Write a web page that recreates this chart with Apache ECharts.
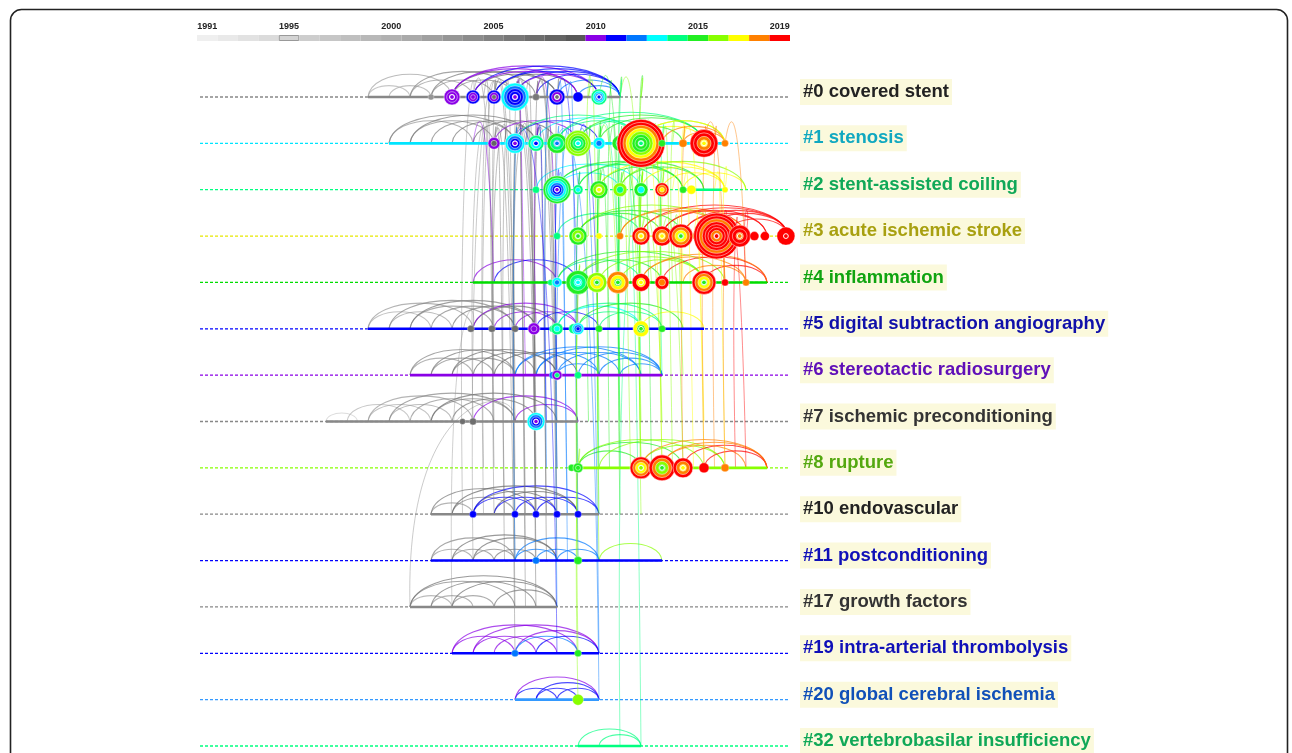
<!DOCTYPE html>
<html>
<head>
<meta charset="utf-8">
<script src="https://cdn.jsdelivr.net/npm/echarts@6/dist/echarts.min.js"></script>
<style>
  html, body { margin: 0; padding: 0; background: #fff; }
  #timeline { width: 1292px; height: 753px; }
</style>
</head>
<body>
<div id="timeline"></div>
<script>
// years of the colour bar (one cell per year)
const years = ['1991', '1992', '1993', '1994', '1995', '1996', '1997', '1998', '1999', '2000',
  '2001', '2002', '2003', '2004', '2005', '2006', '2007', '2008', '2009', '2010',
  '2011', '2012', '2013', '2014', '2015', '2016', '2017', '2018', '2019'];
const tickYears = ['1991', '1995', '2000', '2005', '2010', '2015', '2019'];

// cluster labels, top to bottom
const rowLabels = ['#0 covered stent', '#1 stenosis', '#2 stent-assisted coiling', '#3 acute ischemic stroke',
  '#4 inflammation', '#5 digital subtraction angiography', '#6 stereotactic radiosurgery',
  '#7 ischemic preconditioning', '#8 rupture', '#10 endovascular', '#11 postconditioning',
  '#17 growth factors', '#19 intra-arterial thrombolysis', '#20 global cerebral ischemia',
  '#32 vertebrobasilar insufficiency'];

// solid part of each timeline: [row, fromYear, toYear]
const rowSpans = [
  [0, 1999, 2011], [1, 2000, 2016], [2, 2014, 2016], [4, 2004, 2018], [5, 1999, 2015],
  [6, 2001, 2013], [7, 1997, 2009], [8, 2008.7, 2018], [9, 2002, 2010], [10, 2002, 2013],
  [11, 2001, 2008], [12, 2003, 2010], [13, 2006, 2010], [14, 2009, 2012]
];

// nodes: [year, row, radius, ring years inner -> outer]
const nodes = [
  [2002, 0, 3, [2003]], [2003, 0, 8, [2010, 2010, 2010]], [2004, 0, 7, [2010, 2010, 2011]],
  [2005, 0, 7, [2007, 2010, 2011]], [2006, 0, 14, [2010, 2011, 2011, 2012, 2013]],
  [2007, 0, 3.5, [2006]], [2008, 0, 8, [2007, 2010, 2011]], [2009, 0, 5, [2011]],
  [2010, 0, 8, [2011, 2012, 2013, 2014]],
  [2005, 1, 6, [2008, 2010]], [2006, 1, 10, [2010, 2011, 2012, 2013]], [2007, 1, 8, [2011, 2013, 2014]],
  [2008, 1, 10, [2012, 2014, 2015]], [2009, 1, 13, [2013, 2014, 2015, 2016, 2016]],
  [2010, 1, 6, [2012, 2013]], [2011, 1, 8, [2014, 2015]],
  [2012, 1, 24, [2014, 2015, 2015, 2016, 2017, 2018, 2019, 2019]], [2013, 1, 3.5, [2015]],
  [2014, 1, 4, [2018]], [2015, 1, 14, [2017, 2018, 2019, 2019]], [2016, 1, 3.5, [2018]],
  [2007, 2, 3.5, [2014]], [2008, 2, 14, [2010, 2011, 2012, 2013, 2014, 2015]], [2009, 2, 5, [2013, 2014]],
  [2010, 2, 9, [2017, 2016, 2015]], [2011, 2, 7, [2014, 2016]], [2012, 2, 7, [2013, 2015]],
  [2013, 2, 7, [2017, 2018, 2019]], [2014, 2, 3.5, [2015]], [2014.4, 2, 4.5, [2017]], [2016, 2, 3, [2017]],
  [2008, 3, 3.5, [2014]], [2009, 3, 9, [2015, 2016, 2015]], [2010, 3, 3, [2017]], [2011, 3, 3.5, [2018]],
  [2012, 3, 9, [2017, 2018, 2019]], [2013, 3, 10, [2017, 2018, 2019]],
  [2013.9, 3, 12, [2015, 2017, 2018, 2019]], [2014.6, 3, 3.5, [2018]],
  [2015.6, 3, 23, [2019, 2018, 2019, 2019, 2019, 2018, 2019, 2019]], [2016.7, 3, 11, [2018, 2019, 2019]],
  [2017.4, 3, 4.5, [2019]], [2017.9, 3, 4.5, [2019]], [2018.9, 3, 9, [2019]],
  [2007.7, 4, 3, [2014]], [2008, 4, 5, [2012, 2013]], [2009, 4, 12, [2013, 2014, 2015]],
  [2009.9, 4, 10, [2015, 2017, 2016]], [2010.9, 4, 11, [2015, 2017, 2018]], [2012, 4, 9, [2017, 2019]],
  [2013, 4, 7, [2018, 2019]], [2015, 4, 12, [2015, 2017, 2018, 2019]], [2016, 4, 3.5, [2019]],
  [2017, 4, 3.5, [2018]],
  [2003.9, 5, 3.5, [2007]], [2004.9, 5, 3.5, [2007]], [2006, 5, 3.5, [2007]], [2006.9, 5, 6, [2010, 2010]],
  [2007.8, 5, 3.5, [2014]], [2008, 5, 6, [2013, 2014]], [2008.8, 5, 5, [2014]], [2009, 5, 6, [2011, 2012, 2013]],
  [2010, 5, 3.5, [2015]], [2012, 5, 8, [2015, 2017]], [2013, 5, 3.5, [2015]],
  [2007.8, 6, 3.5, [2012]], [2008, 6, 5, [2014, 2010]], [2009, 6, 3.5, [2014]],
  [2003.5, 7, 3, [2007]], [2004, 7, 3.5, [2007]], [2007, 7, 9, [2010, 2011, 2012, 2013]],
  [2008.7, 8, 3.5, [2015]], [2009, 8, 5, [2015, 2015]], [2012, 8, 11, [2016, 2017, 2018, 2019]],
  [2013, 8, 13, [2015, 2016, 2018, 2019]], [2014, 8, 10, [2017, 2018, 2019]], [2015, 8, 5, [2019]],
  [2016, 8, 4, [2018]],
  [2004, 9, 3.5, [2011]], [2006, 9, 3.5, [2011]], [2007, 9, 3.5, [2011]], [2008, 9, 3.5, [2011]], [2009, 9, 3.5, [2011]],
  [2007, 10, 3.5, [2012]], [2009, 10, 4, [2015]],
  [2006, 12, 3.5, [2012]], [2009, 12, 3.5, [2015]],
  [2009, 13, 5.5, [2016]]
];

// arcs inside one timeline: [row, fromYear, toYear, colourYear]
const arcs = [
  [0, 1999, 2001, 2000], [0, 2000, 2002, 2001], [0, 1999, 2003, 2002], [0, 2001, 2004, 2003],
  [0, 2002, 2005, 2004], [0, 2003, 2006, 2005], [0, 2002, 2007, 2006], [0, 2004, 2008, 2007],
  [0, 2001, 2006, 2005], [0, 2003, 2008, 2007], [0, 2005, 2009, 2008], [0, 2003, 2010, 2010],
  [0, 2004, 2011, 2011], [0, 2005, 2011, 2011], [0, 2006, 2011, 2011], [0, 2003, 2009, 2010],
  [0, 2007, 2011, 2011], [0, 2008, 2011, 2012], [0, 2006, 2010, 2010], [0, 2009, 2011, 2012],
  [0, 2005, 2010, 2011], [0, 2004, 2009, 2010],
  [1, 2000, 2004, 2003], [1, 2001, 2005, 2004], [1, 2000, 2006, 2005], [1, 2002, 2006, 2005],
  [1, 2003, 2007, 2006], [1, 2001, 2007, 2006], [1, 2004, 2008, 2007], [1, 2005, 2009, 2010],
  [1, 2006, 2010, 2011], [1, 2007, 2012, 2013], [1, 2008, 2012, 2014], [1, 2009, 2013, 2014],
  [1, 2006, 2012, 2014], [1, 2009, 2015, 2015], [1, 2010, 2015, 2015], [1, 2012, 2016, 2016],
  [1, 2008, 2015, 2014], [1, 2011, 2014, 2015], [1, 2012, 2015, 2017], [1, 2013, 2016, 2018],
  [1, 2014, 2016, 2018], [1, 2012, 2016, 2017],
  [2, 2008, 2011, 2013], [2, 2008, 2013, 2014], [2, 2009, 2014, 2014], [2, 2007, 2012, 2013],
  [2, 2008, 2014, 2015], [2, 2010, 2014, 2015], [2, 2009, 2015, 2015], [2, 2011, 2015, 2015],
  [2, 2012, 2016, 2017], [2, 2013, 2016, 2017], [2, 2010, 2016, 2017], [2, 2014, 2017, 2017],
  [2, 2011, 2017, 2016],
  [3, 2009, 2013, 2015], [3, 2008, 2012, 2014], [3, 2009, 2014, 2015], [3, 2009, 2016, 2016],
  [3, 2011, 2017, 2018], [3, 2012, 2017, 2018], [3, 2013, 2018, 2019], [3, 2014, 2019, 2019],
  [3, 2012, 2019, 2019], [3, 2015, 2019, 2019], [3, 2013, 2019, 2019], [3, 2016, 2019, 2019],
  [3, 2011, 2016, 2018], [3, 2014, 2018, 2019],
  [4, 2004, 2008, 2010], [4, 2005, 2009, 2011], [4, 2008, 2012, 2014], [4, 2009, 2013, 2015],
  [4, 2008, 2015, 2015], [4, 2010, 2015, 2016], [4, 2009, 2016, 2016], [4, 2011, 2015, 2016],
  [4, 2012, 2017, 2018], [4, 2013, 2018, 2019], [4, 2015, 2018, 2019], [4, 2012, 2018, 2018],
  [4, 2014, 2017, 2018],
  [5, 1999, 2002, 2001], [5, 2000, 2003, 2002], [5, 1999, 2004, 2003], [5, 2001, 2005, 2004],
  [5, 2002, 2006, 2005], [5, 2003, 2007, 2006], [5, 2001, 2007, 2006], [5, 2004, 2008, 2007],
  [5, 2000, 2006, 2005], [5, 2004, 2009, 2010], [5, 2005, 2008, 2010], [5, 2006, 2009, 2010],
  [5, 2007, 2010, 2011], [5, 2008, 2012, 2013], [5, 2009, 2012, 2014], [5, 2008, 2013, 2014],
  [5, 2010, 2013, 2014], [5, 2009, 2014, 2015], [5, 2012, 2015, 2017],
  [6, 2001, 2004, 2003], [6, 2001, 2006, 2005], [6, 2002, 2005, 2004], [6, 2003, 2006, 2005],
  [6, 2002, 2007, 2006], [6, 2004, 2008, 2007], [6, 2003, 2008, 2007], [6, 2005, 2009, 2008],
  [6, 2006, 2010, 2012], [6, 2007, 2011, 2012], [6, 2008, 2012, 2012], [6, 2009, 2013, 2012],
  [6, 2007, 2013, 2012], [6, 2010, 2013, 2012], [6, 2008, 2010, 2012], [6, 2011, 2013, 2012],
  [6, 2006, 2012, 2012],
  [7, 1997, 1998.5, 1996], [7, 1998, 2001, 2000], [7, 1999, 2002, 2001], [7, 2000, 2003, 2002],
  [7, 1999, 2004, 2003], [7, 2001, 2005, 2004], [7, 2002, 2006, 2005], [7, 2003, 2007, 2006],
  [7, 2000, 2006, 2005], [7, 2002, 2008, 2007], [7, 2004, 2009, 2010], [7, 2006, 2009, 2010],
  [8, 2009, 2012, 2015], [8, 2009, 2014, 2015], [8, 2009, 2015, 2016], [8, 2010, 2016, 2016],
  [8, 2012, 2016, 2016], [8, 2013, 2017, 2018], [8, 2012, 2018, 2018], [8, 2014, 2018, 2019],
  [8, 2015, 2018, 2019], [8, 2013, 2018, 2018],
  [9, 2002, 2004, 2003], [9, 2003, 2006, 2005], [9, 2002, 2007, 2006], [9, 2004, 2008, 2007],
  [9, 2005, 2009, 2008], [9, 2003, 2009, 2008], [9, 2004, 2007, 2011], [9, 2005, 2008, 2011],
  [9, 2006, 2009, 2011], [9, 2004, 2010, 2011], [9, 2007, 2010, 2011],
  [10, 2002, 2004, 2003], [10, 2003, 2005, 2004], [10, 2004, 2006, 2005], [10, 2002, 2006, 2005],
  [10, 2005, 2007, 2006], [10, 2003, 2008, 2007], [10, 2004, 2008, 2007], [10, 2006, 2008, 2012],
  [10, 2007, 2009, 2012], [10, 2008, 2010, 2012], [10, 2006, 2010, 2012], [10, 2010, 2013, 2016],
  [11, 2001, 2003, 2002], [11, 2002, 2004, 2003], [11, 2003, 2005, 2004], [11, 2001, 2006, 2005],
  [11, 2002, 2007, 2006], [11, 2003, 2008, 2007], [11, 2005, 2008, 2006], [11, 2001, 2008, 2007],
  [12, 2003, 2006, 2010], [12, 2004, 2007, 2010], [12, 2005, 2008, 2010], [12, 2003, 2009, 2010],
  [12, 2004, 2010, 2010], [12, 2006, 2010, 2010], [12, 2006, 2009, 2012], [12, 2007, 2010, 2011],
  [13, 2006, 2008, 2011], [13, 2007, 2009, 2011], [13, 2008, 2010, 2011], [13, 2006, 2010, 2010],
  [13, 2007, 2010, 2011],
  [14, 2009, 2012, 2014], [14, 2010, 2012, 2014]
];

// links between timelines: [yearLow, rowLow, yearHigh, rowHigh, colourYear]
const links = [
  [2006, 9, 2005, 0, 2006], [2006, 10, 2006, 0, 2005], [2007, 9, 2006, 1, 2006], [2005, 5, 2004, 0, 2005],
  [2006, 6, 2005, 0, 2006], [2007, 7, 2006, 0, 2007], [2008, 7, 2007, 0, 2007], [2007, 6, 2006, 1, 2006],
  [2005, 9, 2005, 1, 2005], [2008, 9, 2007, 0, 2008], [2004, 10, 2005, 0, 2004], [2006, 11, 2006, 1, 2005],
  [2003, 11, 2004, 5, 2003], [2001, 11, 2006, 7, 2004], [2006, 12, 2005, 1, 2006], [2008, 6, 2008, 0, 2007],
  [2007, 5, 2006, 0, 2006], [2008, 10, 2007, 1, 2007], [2007, 8, 2006.5, 0, 2006], [2006.5, 9, 2006, 0, 2005],
  [2005, 8, 2004.5, 0, 2006], [2005.5, 9, 2005, 1, 2007], [2006, 8, 2005.5, 0, 2005], [2006.5, 10, 2006, 0, 2006],
  [2007, 10, 2006.5, 1, 2007], [2007, 9, 2007, 0, 2008], [2005, 7, 2005, 0, 2005], [2004.5, 9, 2004.5, 1, 2004],
  [2005.5, 10, 2005.5, 1, 2006], [2006, 7, 2006, 1, 2007], [2007.5, 9, 2007, 1, 2008], [2004, 7, 2004.5, 1, 2004],
  [2006.5, 11, 2006, 0, 2006], [2005, 6, 2005.5, 1, 2007], [2007, 11, 2007, 1, 2008], [2008, 8, 2007.5, 1, 2007],
  [2004.5, 8, 2005, 0, 2005], [2003.5, 9, 2004, 0, 2004], [2007.5, 10, 2007.5, 0, 2008], [2006, 5, 2006.5, 1, 2007],
  [2008, 4, 2007, 0, 2010], [2009, 5, 2008, 0, 2011], [2010, 6, 2009, 1, 2011], [2008, 12, 2006, 1, 2011],
  [2010, 13, 2008, 1, 2012], [2006, 10, 2006, 1, 2012], [2009, 9, 2009, 2, 2012], [2005, 4, 2004, 1, 2010],
  [2010, 12, 2009, 1, 2012], [2007.5, 8, 2007.5, 0, 2012], [2008, 8, 2008, 1, 2012], [2008.5, 10, 2008, 0, 2012],
  [2008, 11, 2008.5, 1, 2012], [2008.5, 9, 2008, 2, 2012], [2007.5, 7, 2007, 1, 2011], [2008, 6, 2008, 2, 2011],
  [2009, 10, 2008.5, 0, 2012], [2006.5, 6, 2006, 0, 2010], [2007, 5, 2007, 1, 2010],
  [2009, 8, 2009, 2, 2015], [2009, 13, 2009, 8, 2016], [2009, 12, 2009, 4, 2016], [2010, 8, 2010, 1, 2014],
  [2011, 8, 2011, 1, 2015], [2012, 8, 2011, 1, 2016], [2012, 8, 2012, 2, 2016], [2013, 8, 2012, 1, 2017],
  [2013, 8, 2013, 2, 2016], [2014, 8, 2013, 3, 2016], [2011, 5, 2010, 1, 2014], [2012, 5, 2011, 2, 2015],
  [2010, 4, 2010, 1, 2015], [2011, 4, 2011, 0, 2015], [2012, 4, 2011, 0, 2016], [2010, 6, 2010, 2, 2015],
  [2012, 6, 2012, 1, 2014], [2009, 10, 2009, 4, 2016], [2012, 14, 2011, 1, 2014], [2011, 14, 2012, 2, 2014],
  [2013, 4, 2013, 2, 2016], [2014, 4, 2014, 1, 2017], [2012, 3, 2012, 0, 2015], [2011, 3, 2010, 0, 2015],
  [2013, 3, 2012, 1, 2016], [2011, 7, 2010, 1, 2016], [2010, 9, 2010, 1, 2015], [2011, 9, 2011, 2, 2015],
  [2010, 10, 2010, 2, 2016], [2012, 7, 2012, 2, 2016], [2013, 7, 2012, 3, 2016], [2011, 6, 2011, 3, 2015],
  [2015, 8, 2014, 1, 2017], [2016, 4, 2016, 2, 2017], [2013, 6, 2013, 1, 2014], [2009.5, 3, 2009.5, 0, 2016],
  [2011.5, 8, 2011, 2, 2016], [2012.5, 8, 2012, 1, 2015], [2013.5, 8, 2013, 1, 2016], [2014.5, 8, 2014, 2, 2017],
  [2010.5, 8, 2010.5, 0, 2015], [2011, 7, 2011, 0, 2014], [2012, 5, 2012, 0, 2016], [2013, 5, 2012.5, 1, 2016],
  [2010.5, 5, 2010, 2, 2015], [2014, 5, 2013.5, 2, 2017], [2011.5, 4, 2011.5, 2, 2016], [2012.5, 4, 2012, 3, 2016],
  [2013.5, 4, 2013.5, 1, 2016], [2015, 7, 2014.5, 3, 2017], [2016, 8, 2015.5, 2, 2017], [2014, 6, 2013.5, 3, 2016],
  [2010, 7, 2009.5, 0, 2016], [2011, 6, 2010.5, 1, 2015], [2009.5, 7, 2009.5, 1, 2015], [2012, 9, 2012, 2, 2016],
  [2015, 4, 2015, 3, 2018], [2016, 4, 2016, 3, 2019], [2016, 8, 2016, 3, 2018], [2017, 4, 2016, 1, 2018],
  [2015, 8, 2015, 1, 2018], [2017, 8, 2016, 3, 2019], [2016, 4, 2015, 1, 2018], [2014, 8, 2014, 1, 2018],
  [2015.5, 8, 2015.5, 1, 2018], [2017, 4, 2017, 3, 2019], [2016.5, 8, 2016.5, 3, 2019]
];

const yearColors = ['#efefef', '#e9e9e9', '#e2e2e2', '#dbdbdb', '#d4d4d4', '#cdcdcd', '#c6c6c6', '#bfbfbf',
  '#b8b8b8', '#b1b1b1', '#aaaaaa', '#a0a0a0', '#969696', '#8c8c8c', '#828282', '#787878', '#6e6e6e',
  '#646464', '#585858', '#8a00e6', '#0000ff', '#0077ff', '#00ffff', '#00ff80', '#22ee22', '#88ff00',
  '#ffff00', '#ff8000', '#ff0000'];
const rowLineColors = ['#888888', '#00e5ff', '#00ff80', '#e8e800', '#00dd00', '#0000ff', '#8a00e6',
  '#888888', '#88ff00', '#888888', '#0000ff', '#888888', '#0000ff', '#3399ff', '#00ff80'];
const rowLabelColors = ['#222222', '#10a8c0', '#10a858', '#a8a010', '#10a410', '#1010aa', '#6010b8',
  '#333333', '#54a810', '#222222', '#1010b8', '#333333', '#1010b8', '#1050b8', '#10a858'];

const colorOf = y => yearColors[Math.max(0, Math.min(28, Math.round(y) - 1991))];
const FONT = 'Liberation Sans, Arial, sans-serif';

const chart = echarts.init(document.getElementById('timeline'));

const option = {
  backgroundColor: '#fff',
  animation: false,
  graphic: [{
    type: 'rect', left: 8, top: 7, shape: { width: 1277, height: 780, r: 11 },
    style: { fill: null, stroke: '#222', lineWidth: 1.6 }, z: 100
  }],
  grid: [
    { left: 200, width: 588, top: 97, height: 649 },
    { left: 197, width: 593, top: 35, height: 6 }
  ],
  xAxis: [
    { gridIndex: 0, type: 'value', min: 1991, max: 2019, show: false },
    {
      gridIndex: 1, type: 'category', data: years, position: 'top',
      axisLine: { show: false }, axisTick: { show: false }, splitLine: { show: false },
      axisLabel: {
        interval: (i, v) => tickYears.includes(v), margin: 4,
        fontSize: 9, fontWeight: 'bold', color: '#222', fontFamily: FONT
      }
    }
  ],
  yAxis: [
    { gridIndex: 0, type: 'value', min: 0, max: 14, inverse: true, show: false },
    { gridIndex: 1, type: 'value', min: 0, max: 1, show: false }
  ],
  series: [
    {
      // colour bar
      type: 'bar', xAxisIndex: 1, yAxisIndex: 1, barCategoryGap: '0%', silent: true,
      data: years.map((y, i) => ({
        value: 1,
        itemStyle: { color: yearColors[i], borderColor: y === '1995' ? '#999' : null, borderWidth: y === '1995' ? 1 : 0 }
      }))
    },
    {
      // dashed timelines
      type: 'custom', xAxisIndex: 0, yAxisIndex: 0, z: 1, silent: true,
      data: rowLabels.map((l, i) => [1991, i]),
      renderItem(params, api) {
        const row = params.dataIndex;
        const a = api.coord([1991, row]);
        const b = api.coord([2019, row]);
        return {
          type: 'line', shape: { x1: a[0], y1: a[1], x2: b[0], y2: b[1] },
          style: { stroke: rowLineColors[row], lineWidth: 1.3, lineDash: [3, 2] }
        };
      }
    },
    {
      // arcs within a timeline
      type: 'custom', xAxisIndex: 0, yAxisIndex: 0, z: 2, silent: true,
      data: arcs.map(a => [a[1], a[0]]),
      renderItem(params, api) {
        const a = arcs[params.dataIndex];
        const p1 = api.coord([a[1], a[0]]);
        const p2 = api.coord([a[2], a[0]]);
        const w = p2[0] - p1[0];
        const h = Math.min(0.27 * w, 12 + 0.13 * w);
        const k = h / 0.75;
        return {
          type: 'bezierCurve',
          shape: { x1: p1[0], y1: p1[1], x2: p2[0], y2: p2[1], cpx1: p1[0] + w * 0.04, cpy1: p1[1] - k, cpx2: p2[0] - w * 0.04, cpy2: p2[1] - k },
          style: { stroke: colorOf(a[3]), fill: null, lineWidth: 1.1, opacity: 0.7 }
        };
      }
    },
    {
      // links between timelines
      type: 'custom', xAxisIndex: 0, yAxisIndex: 0, z: 3, silent: true,
      data: links.map(l => [l[0], l[1]]),
      renderItem(params, api) {
        const l = links[params.dataIndex];
        const p1 = api.coord([l[0], l[1]]);
        const p2 = api.coord([l[2], l[3]]);
        const top = Math.min(p1[1], p2[1]) - 40;
        return {
          type: 'bezierCurve',
          shape: { x1: p1[0], y1: p1[1], x2: p2[0], y2: p2[1], cpx1: p1[0] - 6, cpy1: top, cpx2: p2[0] + 6, cpy2: top },
          style: { stroke: colorOf(l[4]), fill: null, lineWidth: 1, opacity: 0.45 }
        };
      }
    },
    {
      // solid part of the timelines
      type: 'custom', xAxisIndex: 0, yAxisIndex: 0, z: 4, silent: true,
      data: rowSpans.map(s => [s[1], s[0]]),
      renderItem(params, api) {
        const s = rowSpans[params.dataIndex];
        const a = api.coord([s[1], s[0]]);
        const b = api.coord([s[2], s[0]]);
        return {
          type: 'line', shape: { x1: a[0], y1: a[1], x2: b[0], y2: b[1] },
          style: { stroke: rowLineColors[s[0]], lineWidth: 2.6 }
        };
      }
    },
    {
      // citation-ring nodes
      type: 'custom', xAxisIndex: 0, yAxisIndex: 0, z: 5, silent: true,
      data: nodes.map(n => [n[0], n[1]]),
      renderItem(params, api) {
        const n = nodes[params.dataIndex];
        const c = api.coord([n[0], n[1]]);
        const rings = n[3];
        const children = [];
        for (let k = rings.length - 1; k >= 0; k--) {
          children.push({
            type: 'circle',
            shape: { cx: c[0], cy: c[1], r: n[2] * (k + 1) / rings.length },
            style: { fill: colorOf(rings[k]), stroke: '#fff', lineWidth: rings.length > 1 ? 0.5 : 0.3 }
          });
        }
        if (n[2] >= 8) {
          children.push({ type: 'circle', shape: { cx: c[0], cy: c[1], r: 2.4 }, style: { fill: null, stroke: '#fff', lineWidth: 1 } });
        }
        return { type: 'group', children };
      }
    },
    {
      // cluster labels, placed right of the timeline end
      type: 'custom', xAxisIndex: 0, yAxisIndex: 0, z: 6, silent: true,
      data: rowLabels.map((l, i) => [2019, i]),
      renderItem(params, api) {
        const i = params.dataIndex;
        const p = api.coord([2019, i]);
        return {
          type: 'text', x: p[0] + 12, y: p[1] - 5,
          style: {
            text: rowLabels[i], fill: rowLabelColors[i], font: 'bold 18.5px ' + FONT,
            align: 'left', verticalAlign: 'middle',
            backgroundColor: '#fbf9dc', padding: [4, 3, 3, 3]
          }
        };
      }
    }
  ]
};

chart.setOption(option);
</script>
</body>
</html>
